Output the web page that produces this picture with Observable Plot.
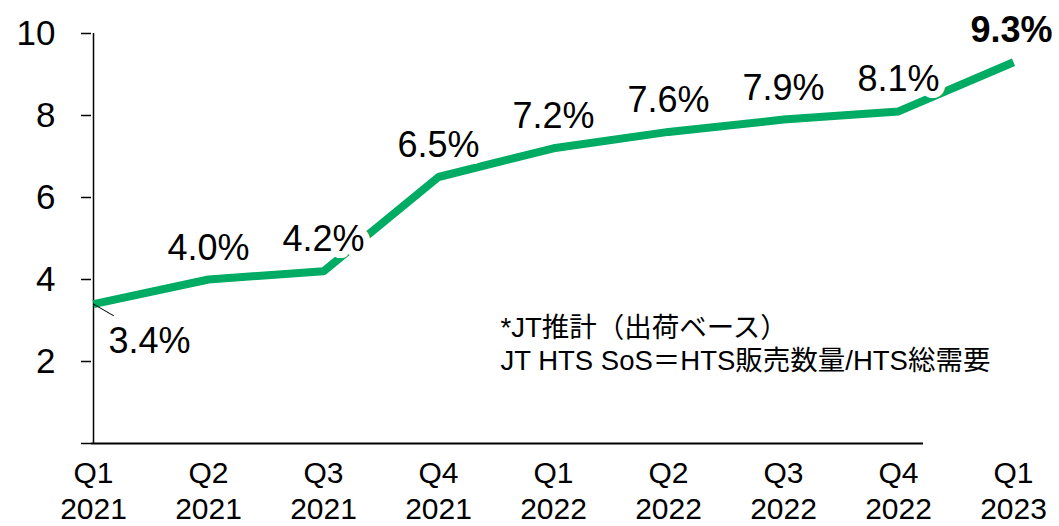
<!DOCTYPE html>
<html>
<head>
<meta charset="utf-8">
<script src="https://cdn.jsdelivr.net/npm/d3@7"></script>
<script src="https://cdn.jsdelivr.net/npm/@observablehq/plot@0.6"></script>
<style>
  html, body { margin: 0; padding: 0; background: #fff; }
  svg { display: block; }
</style>
</head>
<body>
<div id="chart"></div>
<script>
const quarters = ["Q1 2021", "Q2 2021", "Q3 2021", "Q4 2021", "Q1 2022", "Q2 2022", "Q3 2022", "Q4 2022", "Q1 2023"];
const shares = [3.4, 4.0, 4.2, 6.5, 7.2, 7.6, 7.9, 8.1, 9.3];
const shareLabels = ["3.4%", "4.0%", "4.2%", "6.5%", "7.2%", "7.6%", "7.9%", "8.1%", "9.3%"];
const yTicks = [0, 2, 4, 6, 8, 10];
const noteLines = ["*JT推計（出荷ベース）", "JT HTS SoS＝HTS販売数量/HTS総需要"];

const green = "#00AB63";
const font = "'Liberation Sans', Arial, 'Noto Sans CJK JP', sans-serif";

const data = quarters.map((q, i) => ({ q, v: shares[i], label: shareLabels[i] }));
const first = data.slice(0, 1);
const middle = data.slice(1, data.length - 1);
const last = data.slice(data.length - 1);

const chart = Plot.plot({
  width: 1059,
  height: 526,
  marginLeft: 91,
  marginRight: 45,
  marginTop: 33,
  marginBottom: 83,
  style: { fontFamily: font, background: "#fff", color: "#000", overflow: "visible" },
  x: { type: "point", domain: quarters, padding: 0 },
  y: { domain: [0, 10] },
  marks: [
    Plot.axisY({
      ticks: yTicks,
      tickFormat: d => d === 0 ? "" : String(d),
      tickSize: 10,
      tickPadding: 26,
      fontSize: 35,
      stroke: "#000",
      strokeWidth: 1.5,
      strokeOpacity: 1,
      fill: "#000",
      label: null
    }),
    Plot.axisX({
      tickSize: 0,
      tickPadding: 15,
      fontSize: 30,
      lineHeight: 1.17,
      fill: "#000",
      tickFormat: d => d.replace(" ", "\n"),
      label: null
    }),
    Plot.ruleX([quarters[0]], { y1: 0, y2: 10, stroke: "#000", strokeWidth: 1.5 }),
    Plot.ruleY([0], { stroke: "#000", strokeWidth: 2, insetLeft: 0, insetRight: 91 }),
    Plot.line(data, {
      x: "q", y: "v", stroke: green, strokeWidth: 8,
      strokeLinecap: "butt", strokeLinejoin: "miter"
    }),
    Plot.vector(first, {
      x: "q", y: "v", length: 23, rotate: 120, anchor: "start",
      stroke: "#000", strokeWidth: 1,
      shape: { draw(context, l) { context.moveTo(0, 0); context.lineTo(0, -l); } }
    }),
    Plot.text(first, {
      x: "q", y: "v", text: "label", fontSize: 36, fill: "#000",
      lineAnchor: "bottom", dx: 56, dy: 49
    }),
    Plot.text(middle, {
      x: "q", y: "v", text: "label", fontSize: 36, fill: "#000",
      lineAnchor: "bottom", dy: -20,
      stroke: "#fff", strokeWidth: 14, paintOrder: "stroke"
    }),
    Plot.text(last, {
      x: "q", y: "v", text: "label", fontSize: 36, fontWeight: "bold", fill: "#000",
      lineAnchor: "bottom", dy: -20, dx: -2,
      stroke: "#fff", strokeWidth: 14, paintOrder: "stroke"
    }),
    Plot.text([noteLines.join("\n")], {
      frameAnchor: "top-left", textAnchor: "start", lineAnchor: "top",
      dx: 409, dy: 280, fontSize: 27.5, lineHeight: 1.2, fill: "#000"
    })
  ]
});

document.getElementById("chart").appendChild(chart);
</script>
</body>
</html>
